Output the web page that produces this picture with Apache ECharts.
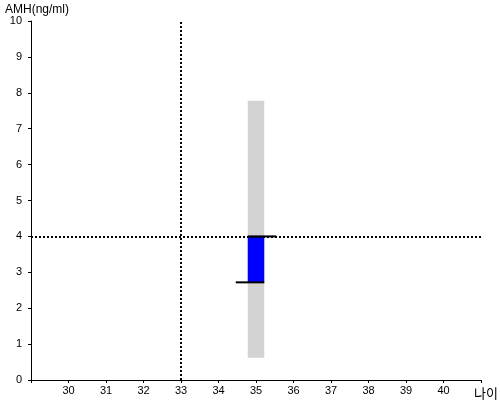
<!DOCTYPE html>
<html>
<head>
<meta charset="utf-8">
<script src="https://cdn.jsdelivr.net/npm/echarts@6/dist/echarts.min.js"></script>
<style>html,body{margin:0;padding:0;background:#fff;overflow:hidden}#c{width:500px;height:400px}</style>
</head>
<body>
<div id="c"></div>
<script>
// Data
const xTicks = [29, 41];            // x-axis range (age)
const yTicks = [0, 10];             // y-axis range (AMH)
const refAge = 33;                  // vertical dotted reference
const refAMH = 4.0;                 // horizontal dotted reference
const barAge = [35];                // bar center age
const grayLow = [0.62];
const grayHigh = [7.78];
const blueLow = [2.72];
const blueHigh = [4.0];
// horizontal black markers: [startAge, endAge, value]
const upperMark = [34.78, 35.54, 4.0];
const lowerMark = [34.46, 35.22, 2.72];
const halfWidth = 0.22;

const font = '"Liberation Sans", Arial, "Noto Sans CJK KR", sans-serif';

function rangeBar(color, lows, highs) {
  return {
    type: 'custom',
    coordinateSystem: 'cartesian2d',
    data: barAge.map((a, i) => [a, lows[i], highs[i]]),
    renderItem: function (params, api) {
      const x = api.value(0), lo = api.value(1), hi = api.value(2);
      const p1 = api.coord([x - halfWidth, hi]);
      const p2 = api.coord([x + halfWidth, lo]);
      return {type: 'rect', shape: {x: p1[0], y: p1[1], width: p2[0] - p1[0], height: p2[1] - p1[1]}, style: {fill: color}};
    },
    silent: true
  };
}

const chart = echarts.init(document.getElementById('c'), null, {renderer: 'canvas', width: 500, height: 400});
chart.setOption({
  animation: false,
  grid: {left: 31, right: 19, top: 21, bottom: 20, containLabel: false, outerBoundsMode: 'none'},
  xAxis: {
    type: 'value', min: xTicks[0], max: xTicks[1], interval: 1,
    name: '나이', nameLocation: 'end', nameGap: -7,
    nameTextStyle: {fontFamily: '"Noto Sans CJK KR", sans-serif', fontSize: 13, color: '#000', verticalAlign: 'top', align: 'left', padding: [7, 0, 0, 0]},
    axisLine: {lineStyle: {color: '#000', width: 1}},
    axisTick: {show: true, length: 3, lineStyle: {color: '#000'}},
    splitLine: {show: false},
    axisLabel: {fontFamily: font, fontSize: 11, color: '#000', margin: 5,
      formatter: v => (v === xTicks[0] || v === xTicks[1]) ? '' : String(v)}
  },
  yAxis: {
    type: 'value', min: yTicks[0], max: yTicks[1], interval: 1,
    name: 'AMH(ng/ml)', nameLocation: 'end', nameGap: 2,
    nameTextStyle: {fontFamily: font, fontSize: 12, color: '#000', align: 'left', padding: [0, 0, 0, -26]},
    axisLine: {show: true, lineStyle: {color: '#000', width: 1}},
    axisTick: {show: true, length: 3, lineStyle: {color: '#000'}},
    splitLine: {show: false},
    axisLabel: {fontFamily: font, fontSize: 11, color: '#000', margin: 9}
  },
  series: [
    rangeBar('#d3d3d3', grayLow, grayHigh),
    rangeBar('#0000ff', blueLow, blueHigh),
    {
      type: 'custom',
      coordinateSystem: 'cartesian2d',
      data: [upperMark, lowerMark],
      renderItem: function (params, api) {
        const a = api.coord([api.value(0), api.value(2)]);
        const b = api.coord([api.value(1), api.value(2)]);
        return {type: 'line', shape: {x1: a[0], y1: a[1], x2: b[0], y2: b[1]}, style: {stroke: '#000', lineWidth: 2}};
      },
      silent: true,
      markLine: {
        silent: true,
        symbol: 'none',
        label: {show: false},
        lineStyle: {color: '#000', width: 2, type: [2, 2]},
        data: [{xAxis: refAge}, {yAxis: refAMH}]
      }
    }
  ]
});
</script>
</body>
</html>
